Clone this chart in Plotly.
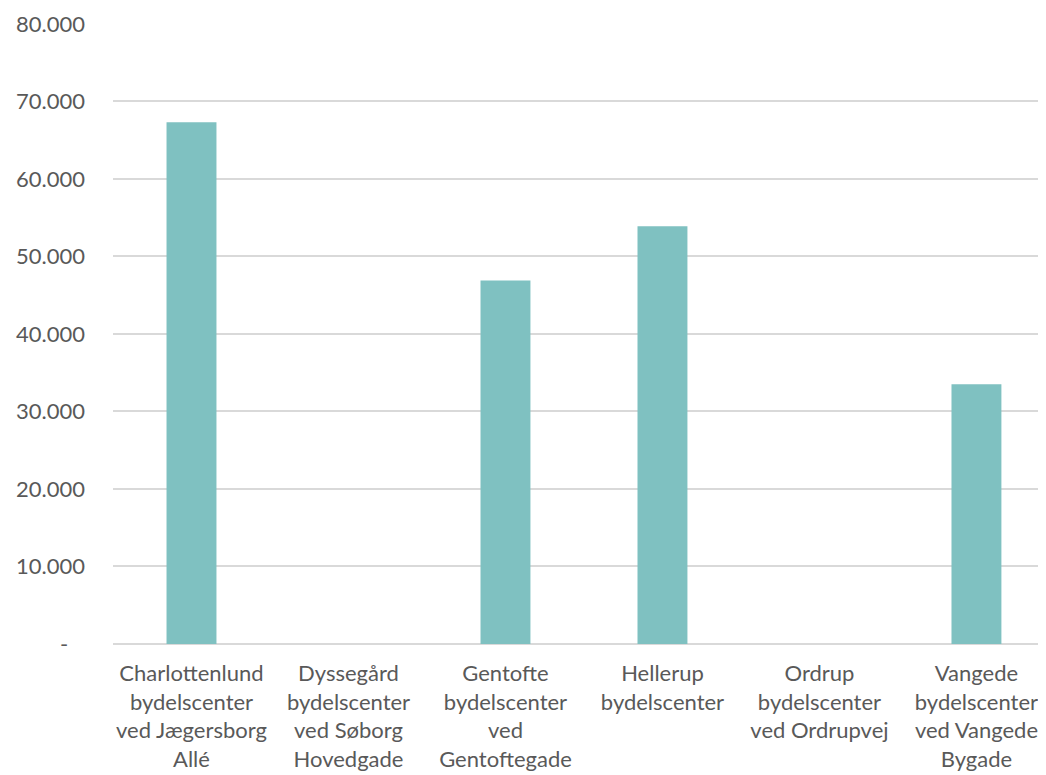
import plotly.graph_objects as go

categories = [
    "Charlottenlund<br>bydelscenter<br>ved Jægersborg<br>Allé",
    "Dyssegård<br>bydelscenter<br>ved Søborg<br>Hovedgade",
    "Gentofte<br>bydelscenter<br>ved<br>Gentoftegade",
    "Hellerup<br>bydelscenter",
    "Ordrup<br>bydelscenter<br>ved Ordrupvej",
    "Vangede<br>bydelscenter<br>ved Vangede<br>Bygade",
]
values = [67300, 0, 46900, 53900, 0, 33500]
y_tickvals = [0, 10000, 20000, 30000, 40000, 50000, 60000, 70000, 80000]
y_ticktext = ["-\u00a0\u00a0\u00a0", "10.000", "20.000", "30.000", "40.000",
              "50.000", "60.000", "70.000", "80.000"]

fig = go.Figure(
    go.Bar(x=categories, y=values, marker=dict(color="#7fc1c1", line=dict(width=0)))
)

font = dict(family="Lato, Open Sans, sans-serif", size=22, color="#595959")

fig.update_layout(
    width=1046, height=767,
    margin=dict(l=105, r=0, t=15, b=131, autoexpand=False),
    plot_bgcolor="white", paper_bgcolor="white",
    bargap=0.682,
    font=font,
    showlegend=False,
)
fig.update_xaxes(
    range=[-0.5, 5.494],
    showgrid=False, showline=False, ticks="", automargin=False,
    tickfont=font, ticklabelstandoff=14, tickangle=0,
)
fig.update_yaxes(
    range=[0, 80120], tickvals=y_tickvals, ticktext=y_ticktext, automargin=False,
    showgrid=True, gridcolor="#d9d9d9", gridwidth=1.5,
    zeroline=True, zerolinecolor="#d9d9d9", zerolinewidth=1.5,
    showline=False, ticks="", tickfont=font, ticklabelstandoff=27,
)

fig.write_html("out.html")
